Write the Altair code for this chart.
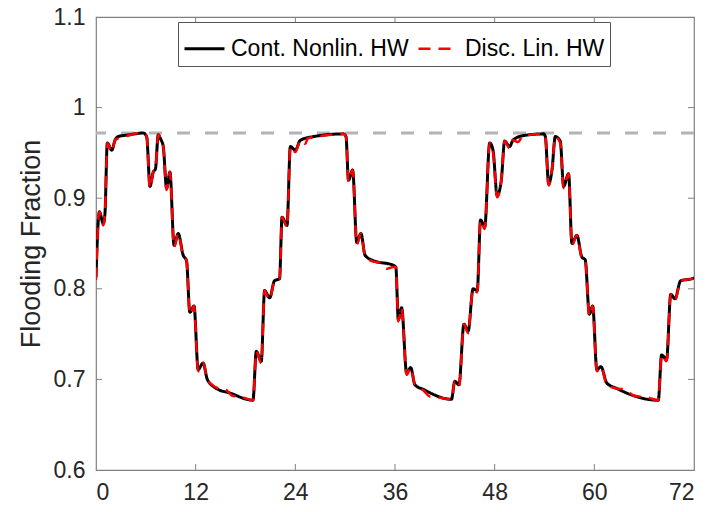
import altair as alt
import pandas as pd

# --- data ---
cont_t = [0, 0.4, 0.88, 1.08, 1.36, 1.89, 2.29, 2.65, 4.0, 5.69, 6.1, 6.5, 6.9, 7.15, 7.5, 7.8, 8.1, 8.5, 8.9,
          9.4, 9.9, 10.5, 10.9, 11.3, 11.8, 12.3, 12.9, 13.4, 14.5, 16.1, 18.9,
          19.3, 19.9, 20.3, 20.9, 21.5, 22.1, 22.4, 23.0, 23.4, 24.0, 24.6, 26.2, 29.8, 30.1, 30.4, 30.9,
          31.4, 31.9, 32.4, 33.4, 35.8, 36.1, 36.4, 36.8, 37.4, 37.9, 38.4, 39.4, 42.8,
          43.2, 43.7, 44.3, 44.8, 45.4, 45.9, 46.3, 46.8, 47.4, 47.8, 48.3, 48.8, 49.2, 49.8, 50.2, 51.4,
          53.9, 54.1, 54.5, 54.9, 55.3, 55.9, 56.3, 56.9, 57.3, 57.9, 58.5, 58.9, 59.4, 59.8, 60.3, 60.8,
          61.5, 62.7, 67.7, 68.1, 68.7, 69.2, 69.7, 70.4, 71.7, 72]
cont_v = [0.813, 0.885, 0.872, 0.883, 0.961, 0.953, 0.964, 0.968, 0.970, 0.972, 0.968, 0.913, 0.929, 0.932, 0.970, 0.965, 0.957, 0.911, 0.929,
          0.848, 0.861, 0.837, 0.831, 0.774, 0.781, 0.711, 0.718, 0.700, 0.690, 0.685, 0.677,
          0.731, 0.720, 0.798, 0.790, 0.809, 0.811, 0.879, 0.870, 0.957, 0.953, 0.964, 0.968, 0.971, 0.968, 0.920, 0.931,
          0.851, 0.861, 0.837, 0.831, 0.826, 0.824, 0.766, 0.779, 0.707, 0.713, 0.694, 0.689, 0.678,
          0.698, 0.694, 0.761, 0.753, 0.800, 0.798, 0.876, 0.868, 0.961, 0.953, 0.903, 0.920, 0.963, 0.957, 0.964, 0.969,
          0.971, 0.968, 0.916, 0.931, 0.968, 0.963, 0.913, 0.927, 0.850, 0.859, 0.835, 0.832, 0.772, 0.781, 0.711, 0.714,
          0.696, 0.690, 0.677, 0.727, 0.722, 0.794, 0.789, 0.809, 0.811, 0.812]

disc_t = [0, 0.4, 0.88, 1.08, 1.36, 1.89, 2.29, 2.65, 3.5, 4.2, 5.2, 5.69, 6.1, 6.5, 6.9, 7.15, 7.5, 7.8, 8.1, 8.5, 8.9,
          9.4, 9.9, 10.5, 10.9, 11.3, 11.8, 12.3, 12.9, 13.4, 14.0, 14.8, 15.6, 16.4, 17.4, 18.9,
          19.3, 19.9, 20.3, 20.9, 21.5, 22.1, 22.4, 23.0, 23.4, 24.0, 24.6, 25.2, 25.5, 26.6, 29.8, 30.1, 30.4, 30.9,
          31.4, 31.9, 32.4, 33.4, 34.2, 35.0, 35.8, 36.1, 36.4, 36.8, 37.4, 37.9, 38.4, 39.4, 40.2, 41.2, 42.8,
          43.2, 43.7, 44.3, 44.8, 45.4, 45.9, 46.3, 46.8, 47.4, 47.8, 48.3, 48.8, 49.2, 49.8, 50.2, 50.8, 51.4,
          53.9, 54.1, 54.5, 54.9, 55.3, 55.9, 56.3, 56.9, 57.3, 57.9, 58.5, 58.9, 59.4, 59.8, 60.3, 60.8,
          61.5, 62.7, 63.6, 64.8, 66.4, 67.7, 68.1, 68.7, 69.2, 69.7, 70.4, 71.7, 72]
disc_v = [0.810, 0.885, 0.870, 0.883, 0.961, 0.951, 0.964, 0.966, 0.968, 0.970, 0.972, 0.972, 0.968, 0.911, 0.929, 0.932, 0.970, 0.965, 0.957, 0.909, 0.929,
          0.846, 0.861, 0.836, 0.831, 0.772, 0.781, 0.709, 0.718, 0.700, 0.694, 0.690, 0.689, 0.682, 0.681, 0.677,
          0.731, 0.718, 0.798, 0.788, 0.809, 0.811, 0.879, 0.868, 0.957, 0.951, 0.964, 0.960, 0.966, 0.968, 0.971, 0.968, 0.918, 0.931,
          0.849, 0.861, 0.836, 0.830, 0.829, 0.822, 0.824, 0.824, 0.764, 0.779, 0.705, 0.713, 0.694, 0.688, 0.681, 0.680, 0.678,
          0.698, 0.692, 0.761, 0.751, 0.800, 0.796, 0.876, 0.866, 0.961, 0.951, 0.901, 0.920, 0.963, 0.955, 0.964, 0.962, 0.969,
          0.971, 0.968, 0.914, 0.931, 0.968, 0.961, 0.911, 0.927, 0.848, 0.859, 0.834, 0.832, 0.770, 0.781, 0.709, 0.714,
          0.694, 0.690, 0.689, 0.682, 0.680, 0.677, 0.727, 0.720, 0.794, 0.787, 0.809, 0.811, 0.812]

series_names = ["Cont. Nonlin. HW", "Disc. Lin. HW"]
ref_level = 0.972
x_ticks = [0, 12, 24, 36, 48, 60, 72]
y_ticks = [0.6, 0.7, 0.8, 0.9, 1.0, 1.1]

W, H = 598, 453
FONT = "Liberation Sans, Arial, Helvetica, sans-serif"

df = pd.concat([
    pd.DataFrame({"t": cont_t, "v": cont_v, "s": series_names[0], "o": 0}),
    pd.DataFrame({"t": disc_t, "v": disc_v, "s": series_names[1], "o": 1}),
])

xs = alt.Scale(domain=[0, 72], nice=False, zero=False)
ys = alt.Scale(domain=[0.6, 1.1], nice=False, zero=False)

ref = alt.Chart(pd.DataFrame({"y": [ref_level]})).mark_rule(
    color="#b4b4b4", strokeWidth=3, strokeDash=[13, 15]
).encode(y=alt.Y("y:Q", scale=ys))

lines = alt.Chart(df).mark_line(clip=True, interpolate="monotone").encode(
    x=alt.X("t:Q", scale=xs, axis=alt.Axis(values=x_ticks, title=None, grid=False, ticks=False,
                                            domain=False, labelPadding=11)),
    y=alt.Y("v:Q", scale=ys, axis=alt.Axis(values=y_ticks, title="Flooding Fraction", grid=False,
                                            ticks=False, domain=False, format="~g", labelPadding=11,
                                            titlePadding=8)),
    color=alt.Color("s:N", scale=alt.Scale(domain=series_names, range=["#000000", "#ff0000"]),
                    legend=alt.Legend(title=None)),
    strokeDash=alt.StrokeDash("s:N", scale=alt.Scale(domain=series_names, range=[[1, 0], [12, 8]]),
                              legend=alt.Legend(title=None)),
    strokeWidth=alt.StrokeWidth("s:N", scale=alt.Scale(domain=series_names, range=[3, 2.5]), legend=None),
    order="o:Q",
    detail="s:N",
)

xt = pd.DataFrame({"t": x_ticks[1:-1]})
yt = pd.DataFrame({"v": y_ticks[1:-1]})
tick_col = "#808080"
xb = alt.Chart(xt).mark_rule(color=tick_col, strokeWidth=1).encode(
    x=alt.X("t:Q", scale=xs), y=alt.value(H), y2=alt.value(H - 6))
xtp = alt.Chart(xt).mark_rule(color=tick_col, strokeWidth=1).encode(
    x=alt.X("t:Q", scale=xs), y=alt.value(0), y2=alt.value(6))
yl = alt.Chart(yt).mark_rule(color=tick_col, strokeWidth=1).encode(
    y=alt.Y("v:Q", scale=ys), x=alt.value(0), x2=alt.value(6))
yr = alt.Chart(yt).mark_rule(color=tick_col, strokeWidth=1).encode(
    y=alt.Y("v:Q", scale=ys), x=alt.value(W), x2=alt.value(W - 6))

chart = alt.layer(ref, xb, xtp, yl, yr, lines).properties(
    width=W, height=H,
    autosize=alt.AutoSizeParams(type="none"),
    padding={"left": 96, "top": 17, "right": 23, "bottom": 42},
).configure_view(
    stroke=tick_col, strokeWidth=1.2
).configure_axis(
    labelFont=FONT, labelFontSize=23, labelColor="#262626",
    titleFont=FONT, titleFontSize=27, titleColor="#262626", titleFontWeight="normal",
).configure_legend(
    orient="none", legendX=82, legendY=5, direction="horizontal",
    strokeColor="#555555", fillColor="white", padding=5,
    labelFont=FONT, labelFontSize=23, labelColor="#000000",
    symbolType="stroke", symbolSize=1600, symbolStrokeWidth=2.5,
    labelOffset=5, columnPadding=4, labelLimit=300,
)

chart.save("out.html", embed_options={"renderer": "svg", "actions": False})
